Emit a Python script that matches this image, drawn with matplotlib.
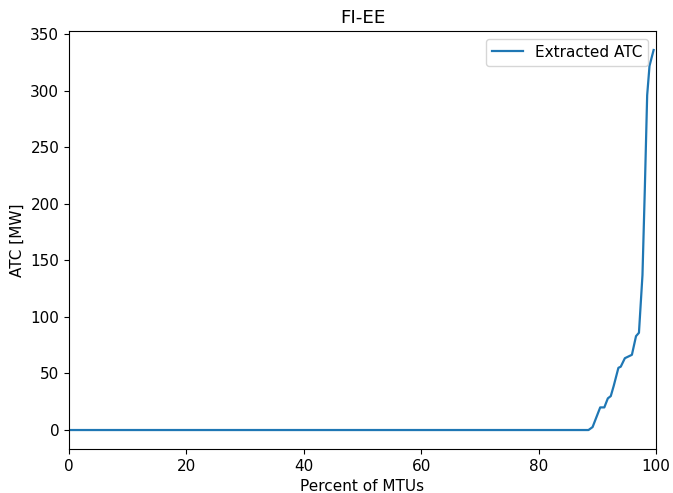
import matplotlib
matplotlib.use("Agg")
import matplotlib.pyplot as plt

pct = [0, 88.5, 89.2, 90.5, 91.2, 91.8, 92.3, 92.8, 93.6, 94.0, 94.7, 95.9, 96.6, 97.1, 97.7, 98.1, 98.5, 98.9, 99.6]
atc = [0, 0, 2.6, 20, 20, 28, 30, 39, 55, 56, 63.5, 66.5, 83, 86, 137, 213, 296, 322, 336]

plt.rcParams["font.size"] = 11
DPI = 100
fig = plt.figure(figsize=(673 / DPI, 493 / DPI), dpi=DPI)
ax = fig.add_axes([0.1025, 0.0892, 0.8722, 0.8479])
ax.plot(pct, atc, color="#1f77b4", linewidth=1.6, label="Extracted ATC")
ax.set_xlim(0, 100)
ax.set_title("FI-EE")
ax.set_xlabel("Percent of MTUs")
ax.set_ylabel("ATC [MW]")
ax.legend(loc="upper right")
fig.savefig("out.png", dpi=DPI)
